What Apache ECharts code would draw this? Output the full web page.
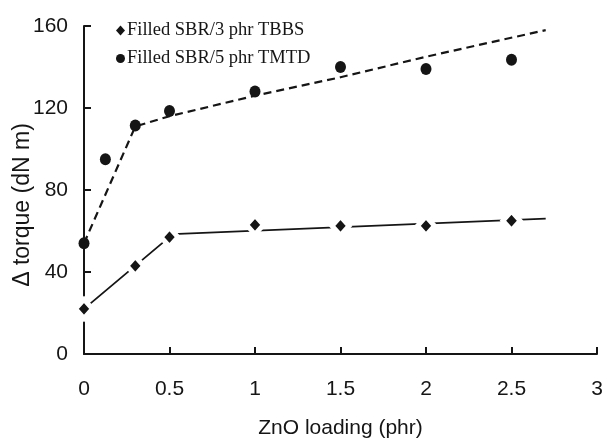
<!DOCTYPE html>
<html><head><meta charset="utf-8">
<script src="https://cdn.jsdelivr.net/npm/echarts@6/dist/echarts.min.js"></script>
<style>html,body{margin:0;padding:0;background:#fff}#c{width:604px;height:440px}</style>
</head><body><div id="c"></div>
<script>
var tbbsX = [0, 0.3, 0.5, 1, 1.5, 2, 2.5];
var tbbsY = [22, 43, 57, 63, 62.5, 62.5, 65];
var tmtdX = [0, 0.125, 0.3, 0.5, 1, 1.5, 2, 2.5];
var tmtdY = [54, 95, 111.5, 118.5, 128, 140, 139, 143.5];
var tbbsFitX = [0, 0.52, 2.7];
var tbbsFitY = [22, 58.5, 66];
var tmtdFitX = [0, 0.3, 0.5, 1, 1.5, 2, 2.7];
var tmtdFitY = [54, 111, 116, 126, 135, 145, 158];
var xTicks = [0, 0.5, 1, 1.5, 2, 2.5, 3];
var yTicks = [0, 40, 80, 120, 160];
var names = ['Filled SBR/3 phr TBBS', 'Filled SBR/5 phr TMTD'];

function zip(a, b) { return a.map(function (v, i) { return [v, b[i]]; }); }
var ink = '#151515';
var chart = echarts.init(document.getElementById('c'));
chart.setOption({
  animation: false,
  backgroundColor: '#fff',
  grid: { left: 84, right: 7, top: 26, bottom: 86, outerBoundsMode: 'none', containLabel: false },
  legend: {
    orient: 'vertical', left: 111, top: 16, itemGap: 9,
    itemWidth: 9, itemHeight: 10,
    itemStyle: { borderWidth: 0, opacity: 1 },
    textStyle: { fontFamily: 'Liberation Serif', fontSize: 18.5, color: ink, padding: [0, 0, 0, -3] },
    data: names
  },
  xAxis: {
    type: 'value', min: 0, max: 3, interval: 0.5,
    name: 'ZnO loading (phr)', nameLocation: 'middle', nameGap: 64, nameMoveOverlap: false,
    nameTextStyle: { fontFamily: 'Liberation Sans', fontSize: 21, color: ink },
    axisLine: { lineStyle: { color: ink, width: 2 } },
    axisTick: { inside: true, length: 7, lineStyle: { color: ink, width: 2 } },
    axisLabel: { margin: 25, fontFamily: 'Liberation Sans', fontSize: 21, color: ink,
      formatter: function (v) { return xTicks.indexOf(v) >= 0 ? String(v) : ''; } },
    splitLine: { show: false }
  },
  yAxis: {
    type: 'value', min: 0, max: 160, interval: 40,
    name: '\u0394 torque (dN m)', nameLocation: 'middle', nameGap: 50, nameMoveOverlap: false,
    nameTextStyle: { fontFamily: 'Liberation Sans', fontSize: 23, color: ink, padding: [0, 30, 0, 0] },
    axisLine: { show: true, lineStyle: { color: ink, width: 2 } },
    axisTick: { show: true, inside: true, length: 7, lineStyle: { color: ink, width: 2 } },
    axisLabel: { margin: 16, fontFamily: 'Liberation Sans', fontSize: 21, color: ink,
      formatter: function (v) { return yTicks.indexOf(v) >= 0 ? String(v) : ''; } },
    splitLine: { show: false }
  },
  series: [
    { type: 'line', data: zip(tbbsFitX, tbbsFitY), showSymbol: false, symbol: 'none', z: 2,
      lineStyle: { color: ink, width: 1.8 } },
    { type: 'line', data: zip(tmtdFitX, tmtdFitY), showSymbol: false, symbol: 'none', z: 2,
      lineStyle: { color: ink, width: 2.2, type: [8, 5] } },
    { name: names[0], type: 'scatter', data: zip(tbbsX, tbbsY), symbol: 'diamond', symbolSize: [17, 19], z: 5,
      clip: false, itemStyle: { color: ink, opacity: 1, borderColor: '#fff', borderWidth: 5 } },
    { name: names[1], type: 'scatter', data: zip(tmtdX, tmtdY), symbol: 'circle', symbolSize: [11, 12], z: 5,
      clip: false, itemStyle: { color: ink, opacity: 1, borderWidth: 0 } }
  ]
});
</script></body></html>
